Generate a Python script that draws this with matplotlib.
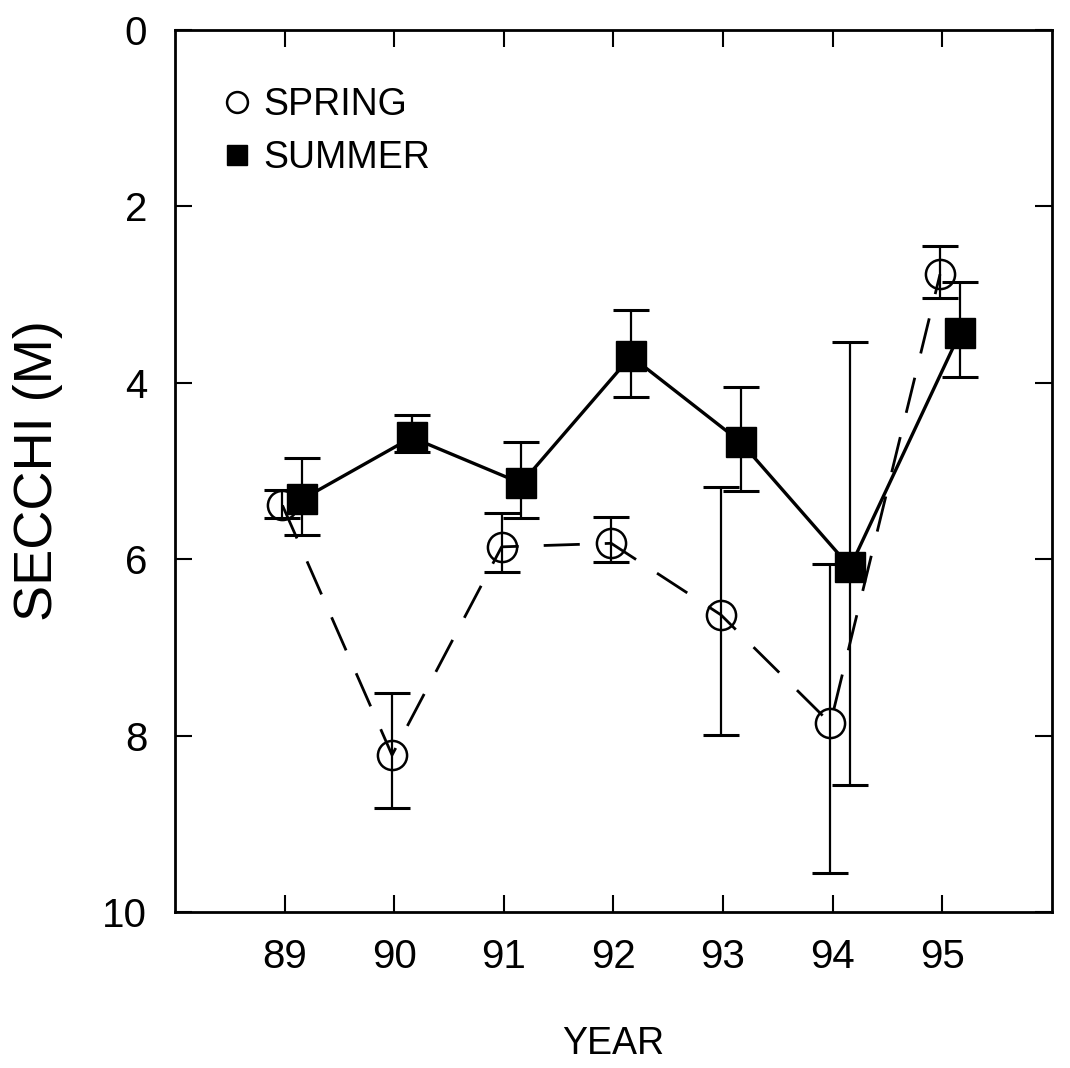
import matplotlib
matplotlib.use('Agg')
import matplotlib.pyplot as plt
from matplotlib.lines import Line2D

plt.rcParams['font.family'] = ['Liberation Sans', 'DejaVu Sans']

######
# secchi depth per year, spring and summer, with error bar ends
######
years = [89, 90, 91, 92, 93, 94, 95]

spring = [5.39, 8.22, 5.86, 5.82, 6.63, 7.86, 2.77]
spring_lo = [5.22, 7.52, 5.48, 5.52, 5.18, 6.05, 2.45]
spring_hi = [5.53, 8.82, 6.15, 6.03, 7.99, 9.56, 3.04]

summer = [5.32, 4.62, 5.14, 3.70, 4.67, 6.09, 3.44]
summer_lo = [4.85, 4.37, 4.67, 3.17, 4.05, 3.54, 2.86]
summer_hi = [5.73, 4.78, 5.53, 4.16, 5.23, 8.56, 3.93]

#small shift so the two seasons don't sit on top of each other
xs_spring = [y - 0.02 for y in years]
xs_summer = [y + 0.16 for y in years]

err_spring = [[s - lo for s, lo in zip(spring, spring_lo)],
              [hi - s for s, hi in zip(spring, spring_hi)]]
err_summer = [[s - lo for s, lo in zip(summer, summer_lo)],
              [hi - s for s, hi in zip(summer, summer_hi)]]

fig = plt.figure(figsize=(10.7, 10.68), dpi=100)
ax = fig.add_axes([0.1636, 0.146, 0.8194, 0.826])

######
# summer: solid line + filled squares
######
ax.errorbar(xs_summer, summer, yerr=err_summer, fmt='none', ecolor='k',
            elinewidth=1.6, capsize=13, capthick=2.2, zorder=2)
ax.plot(xs_summer, summer, color='k', linewidth=2.4, zorder=3)
ax.plot(xs_summer, summer, linestyle='none', marker='s', markersize=22,
        markerfacecolor='k', markeredgecolor='k', zorder=4)

######
# spring: dashed line + open circles
######
ax.errorbar(xs_spring, spring, yerr=err_spring, fmt='none', ecolor='k',
            elinewidth=1.6, capsize=13, capthick=2.2, zorder=2)
ax.plot(xs_spring, spring, color='k', linewidth=2.0, dashes=(13, 9), zorder=3)
ax.plot(xs_spring, spring, linestyle='none', marker='o', markersize=21,
        markerfacecolor='none', markeredgecolor='k', markeredgewidth=1.8, zorder=4)

ax.set_xlim(88, 96)
ax.set_ylim(10, 0)
ax.set_xticks(years)
ax.set_xticklabels([str(y) for y in years])
ax.set_yticks([0, 2, 4, 6, 8, 10])

ax.tick_params(direction='in', length=12, width=1.5, labelsize=29,
               top=True, right=True)
ax.tick_params(axis='x', pad=19)
ax.tick_params(axis='y', pad=20)
for sp in ax.spines.values():
    sp.set_linewidth(2)

ax.set_xlabel('YEAR', fontsize=27, labelpad=36)
ax.set_ylabel('SECCHI (M)', fontsize=39, labelpad=28)

handles = [Line2D([], [], linestyle='none', marker='o', markersize=15,
                  markerfacecolor='none', markeredgecolor='k', markeredgewidth=1.8),
           Line2D([], [], linestyle='none', marker='s', markersize=15,
                  markerfacecolor='k', markeredgecolor='k')]
ax.legend(handles, ['SPRING', 'SUMMER'], loc='upper left',
          bbox_to_anchor=(0.015, 0.973), frameon=False, fontsize=27,
          handlelength=0.8, handletextpad=0.3, labelspacing=0.45)

fig.savefig('out.png', dpi=100)
